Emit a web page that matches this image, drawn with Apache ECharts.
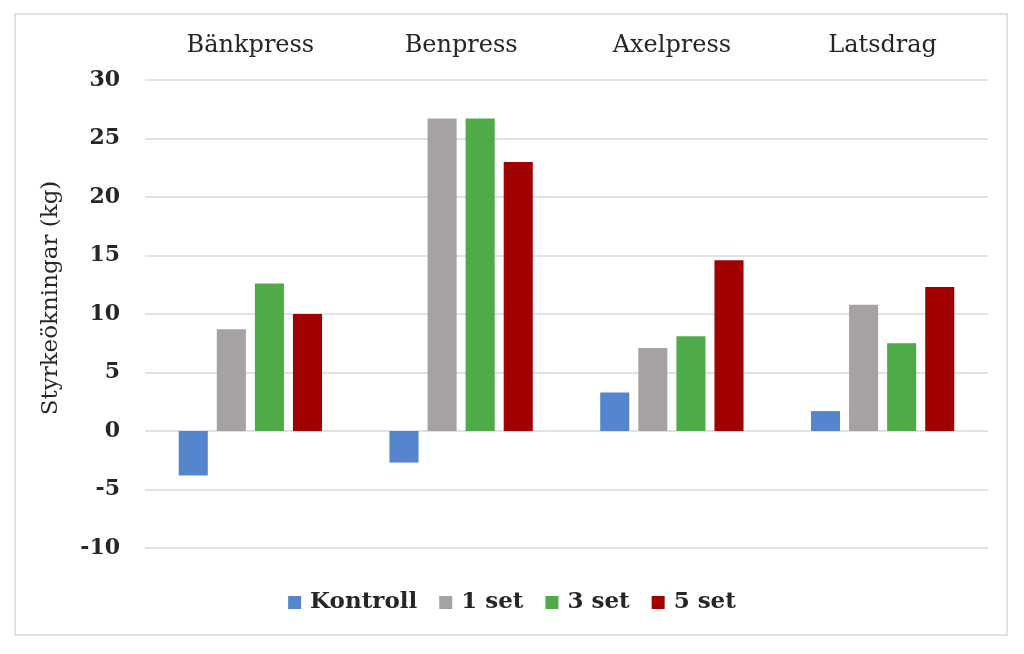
<!DOCTYPE html>
<html>
<head>
<meta charset="utf-8">
<script src="https://cdn.jsdelivr.net/npm/echarts@6/dist/echarts.min.js"></script>
<style>
    html, body { margin: 0; padding: 0; background: #fff; }
</style>
</head>
<body>
<div id="main" style="width: 1024px;height:654px;"></div>

<script type="text/javascript">

    // övningar (kategorier)
    var categories = ['Bänkpress', 'Benpress', 'Axelpress', 'Latsdrag'];
    // grupper
    var groupNames = ['Kontroll', '1 set', '3 set', '5 set'];
    var groupColors = ['#5585cc', '#a6a1a2', '#4fab48', '#a00000'];
    // styrkeökning per grupp (kg)
    var kontroll = [-3.8, -2.7, 3.3, 1.7];
    var set1 = [8.7, 26.7, 7.1, 10.8];
    var set3 = [12.6, 26.7, 8.1, 7.5];
    var set5 = [10.0, 23.0, 14.6, 12.3];
    var yTicks = { min: -10, max: 30, interval: 5 };

    var seriesData = [kontroll, set1, set3, set5];
    var serif = '"DejaVu Serif", "Liberation Serif", serif';

    var myChart = echarts.init(document.getElementById('main'));

    var option = {
        backgroundColor: '#fff',
        // ram runt diagrammet
        graphic: [{
            type: 'rect',
            shape: { x: 15, y: 14, width: 992, height: 621 },
            style: { fill: 'none', stroke: '#d9d9d9', lineWidth: 1.5 },
            silent: true
        }],
        legend: {
            data: groupNames,
            top: 586,
            left: 'center',
            itemWidth: 13,
            itemHeight: 13,
            itemGap: 22,
            icon: 'rect',
            textStyle: { fontFamily: serif, fontSize: 23, fontWeight: 'bold', color: '#262626', padding: [0, 0, 0, 4] }
        },
        grid: { left: 145, right: 36, top: 80, bottom: 106 },
        xAxis: {
            type: 'category',
            position: 'top',
            data: categories,
            axisLine: { show: false },
            axisTick: { show: false },
            axisLabel: { fontFamily: serif, fontSize: 24, color: '#262626', margin: 22 }
        },
        yAxis: {
            type: 'value',
            min: yTicks.min,
            max: yTicks.max,
            interval: yTicks.interval,
            name: 'Styrkeökningar (kg)',
            nameLocation: 'middle',
            nameGap: 82,
            nameRotate: 90,
            nameTextStyle: { fontFamily: serif, fontSize: 23, color: '#262626', padding: [0, 0, 0, 32] },
            axisLine: { show: false },
            axisTick: { show: false },
            axisLabel: { fontFamily: serif, fontSize: 22, fontWeight: 'bold', color: '#262626', margin: 25 },
            splitLine: { lineStyle: { color: '#d9d9d9', width: 1.5 } }
        },
        series: groupNames.map(function (name, i) {
            return {
                name: name,
                type: 'bar',
                data: seriesData[i],
                barGap: '31%',
                barCategoryGap: '32%',
                itemStyle: { color: groupColors[i] }
            };
        })
    };

    myChart.setOption(option);

</script>
</body>
</html>
